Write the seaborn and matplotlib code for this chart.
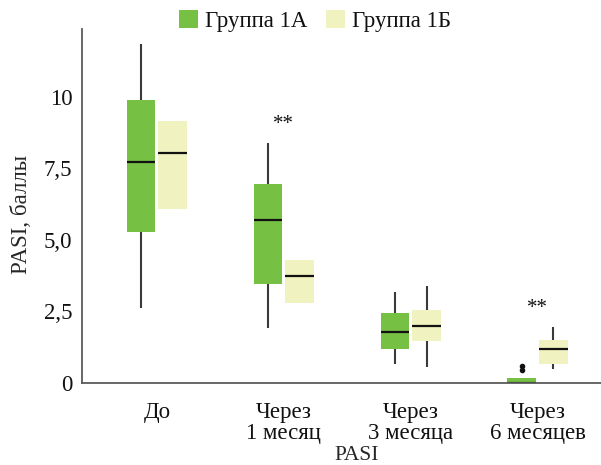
import matplotlib
matplotlib.use("Agg")
import matplotlib.pyplot as plt
from matplotlib.patches import Patch
import seaborn as sns
import pandas as pd

# ---- data ----
categories = ["До", "Через\n1 месяц", "Через\n3 месяца", "Через\n6 месяцев"]
groups = ["Группа 1А", "Группа 1Б"]

# observations per time point (whisker low, Q1, median, Q3, whisker high, [+ outliers])
obs_1a = [
    [2.62, 5.29, 7.73, 9.90, 11.86],
    [1.92, 3.47, 5.69, 6.96, 8.38],
    [0.67, 1.20, 1.78, 2.45, 3.17],
    [0.0, 0.0, 0.0, 0.0, 0.0, 0.17, 0.17, 0.47, 0.60],
]
obs_1b = [
    [6.08, 6.08, 8.02, 9.16, 9.16],
    [2.81, 2.81, 3.75, 4.30, 4.30],
    [0.57, 1.48, 1.99, 2.55, 3.40],
    [0.48, 0.67, 1.19, 1.50, 1.97],
]

colors = ["#76C043", "#F0F2C0"]
star_positions = [1, 3]
star_values = [9.15, 2.75]
yticks = [0, 2.5, 5, 7.5, 10]
ytick_labels = ["0", "2,5", "5,0", "7,5", "10"]

rows = []
for grp, obs in zip(groups, [obs_1a, obs_1b]):
    for cat, vals in zip(categories, obs):
        for v in vals:
            rows.append({"time": cat, "group": grp, "pasi": v})
df = pd.DataFrame(rows)

# ---- style ----
sns.set_style("white")
plt.rcParams["font.family"] = ["Liberation Serif", "DejaVu Serif"]
plt.rcParams["text.color"] = "#111111"

FS = 16.5
fig = plt.figure(figsize=(6.01, 4.65), dpi=100)
ax = fig.add_axes([82 / 601, (465 - 383) / 465, (601 - 82) / 601, (383 - 29) / 465])

sns.boxplot(
    data=df, x="time", y="pasi", hue="group",
    order=categories, hue_order=groups, palette=colors,
    width=0.5, gap=0.1, saturation=1,
    linecolor="#3a3a3a", linewidth=1.5, fliersize=3,
    showcaps=False,
    medianprops=dict(color="#111111", linewidth=1.6),
    flierprops=dict(marker="o", markerfacecolor="#111111", markeredgecolor="#111111"),
    legend=False, ax=ax,
)
for p in ax.patches:
    p.set_edgecolor("none")

for xp, yv in zip(star_positions, star_values):
    ax.annotate("**", xy=(xp, yv), xytext=(0, -6.0), textcoords="offset points",
                ha="center", va="baseline", fontsize=15, color="#111111")

ax.set_xlim(-0.59, 3.5)
ax.set_ylim(0, 12.37)
ax.set_yticks(yticks)
ax.set_yticklabels(ytick_labels)

for side in ["top", "right"]:
    ax.spines[side].set_visible(False)
for side in ["left", "bottom"]:
    ax.spines[side].set_color("#5a5a5a")
    ax.spines[side].set_linewidth(1.3)
ax.tick_params(axis="both", direction="out", length=5, width=1.2, color="#5a5a5a",
               labelsize=FS, labelcolor="#111111")
ax.tick_params(axis="x", pad=8.5)
ax.tick_params(axis="y", pad=2)
for lab in ax.get_xticklabels():
    lab.set_linespacing(1.0)

ax.set_xlabel("PASI", fontsize=15.5)
ax.xaxis.set_label_coords((357 - 82) / 519, -(464.6 - 383) / 354)
ax.xaxis.label.set_va("bottom")
ax.set_ylabel("PASI, баллы", fontsize=FS)
ax.yaxis.set_label_coords(-(82 - 32) / 519, 0.475)

handles = [Patch(facecolor=c, edgecolor="none") for c in colors]
fig.legend(handles, groups, loc="center", bbox_to_anchor=(315 / 601, 1 - 21 / 465),
           ncol=2, frameon=False, fontsize=FS, handlelength=0.8, handleheight=0.8,
           handletextpad=0.3, columnspacing=0.85, borderaxespad=0)

fig.savefig("out.png", dpi=100)
